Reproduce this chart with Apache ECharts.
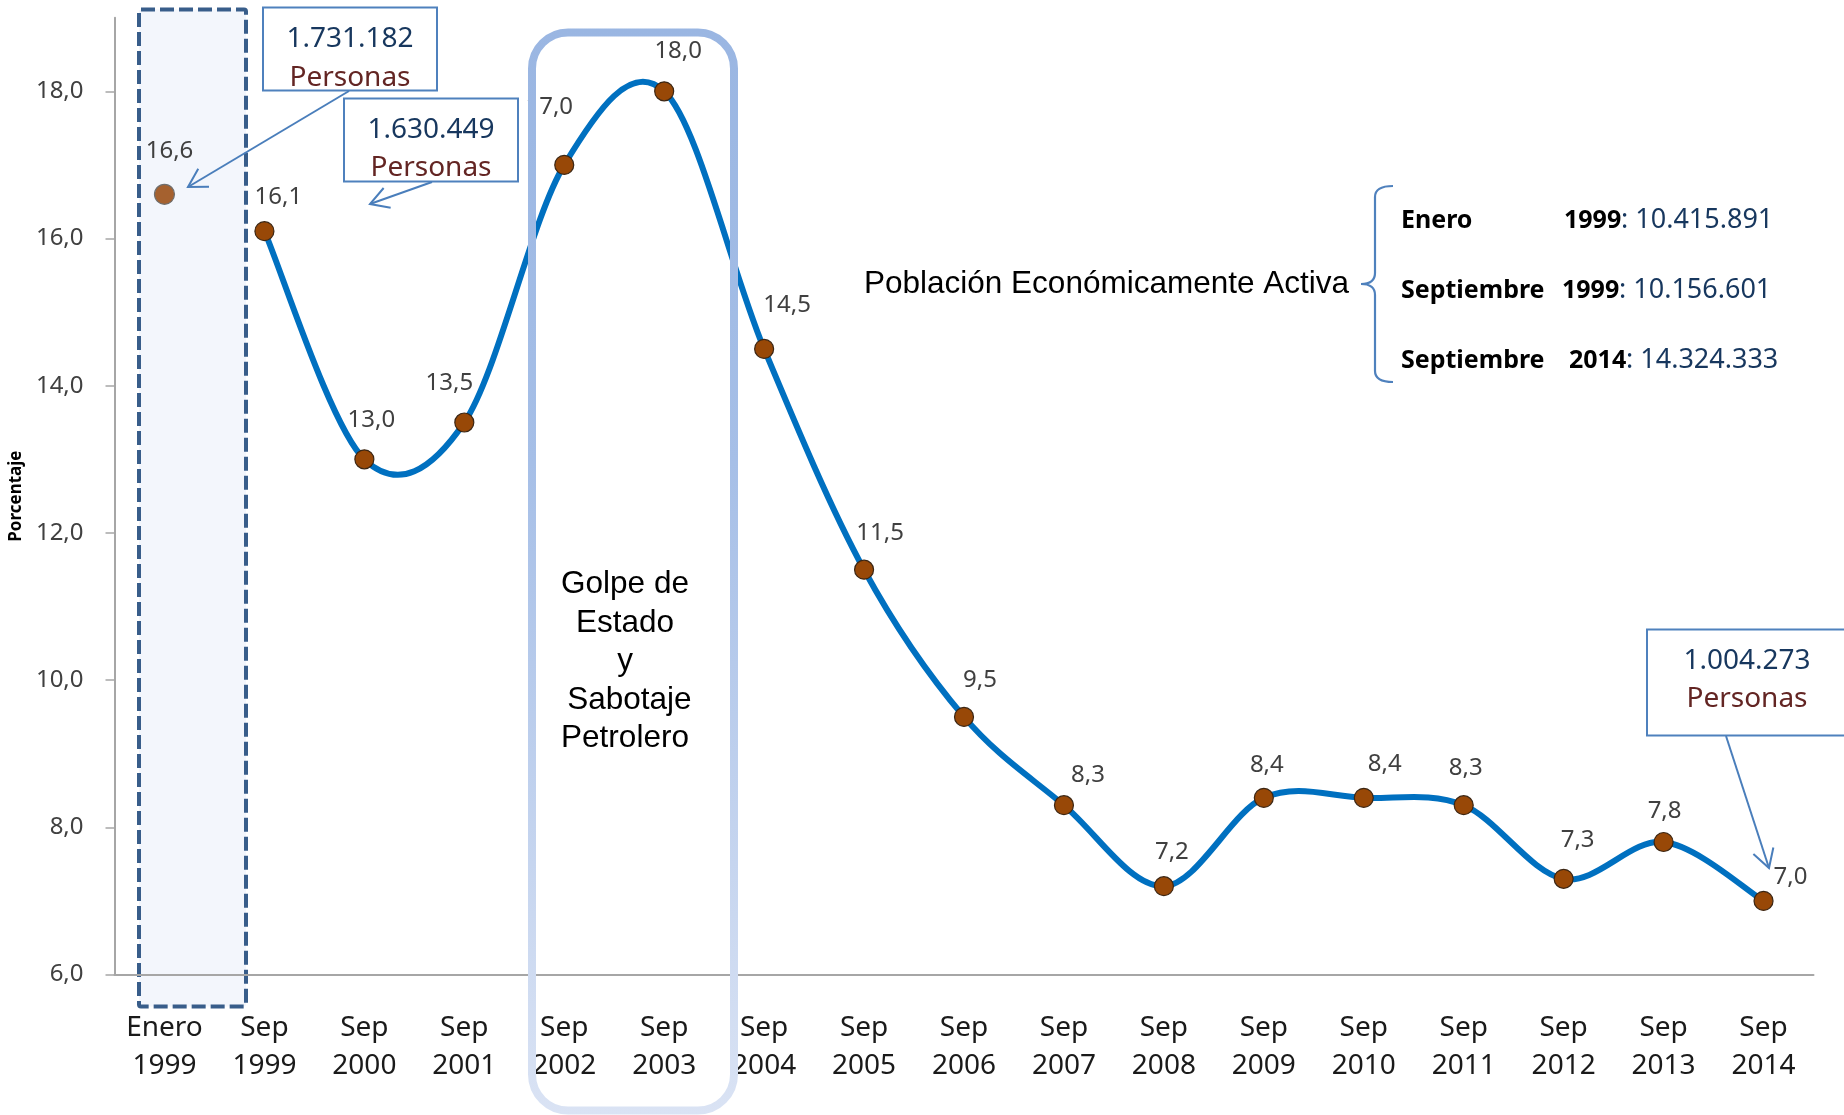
<!DOCTYPE html>
<html>
<head>
<meta charset="utf-8">
<script src="https://cdn.jsdelivr.net/npm/echarts@6/dist/echarts.min.js"></script>
<style>
html,body{margin:0;padding:0;background:#ffffff;}
#chart{width:1844px;height:1115px;}
</style>
</head>
<body>
<div id="chart"></div>
<script>
// ---- data ----
const categories = ['Enero\n1999','Sep\n1999','Sep\n2000','Sep\n2001','Sep\n2002','Sep\n2003','Sep\n2004','Sep\n2005','Sep\n2006','Sep\n2007','Sep\n2008','Sep\n2009','Sep\n2010','Sep\n2011','Sep\n2012','Sep\n2013','Sep\n2014'];
const desempleo = [16.6, 16.1, 13.0, 13.5, 17.0, 18.0, 14.5, 11.5, 9.5, 8.3, 7.2, 8.4, 8.4, 8.3, 7.3, 7.8, 7.0];
const yTicks = [6, 8, 10, 12, 14, 16, 18];
const personasBox = ['1.731.182', '1.630.449', '1.004.273'];
const peaRows = [
  ['Enero', '1999', '10.415.891'],
  ['Septiembre', '1999', '10.156.601'],
  ['Septiembre', '2014', '14.324.333']
];
// label offsets (style, relative to each point)
const labelOffsets = [[5,-43],[14,-34],[7,-39],[-15,-39],[-15,-58],[14,-40],[23,-44],[16,-37],[16,-37],[24,-30],[8,-34],[3,-33],[21,-34],[2,-37],[14,-39],[1,-31],[27,-24]];

const fmt = v => v.toFixed(1).replace('.', ',');
const F = '"Noto Sans", "Open Sans", sans-serif';
const ARIAL = '"Liberation Sans", Arial, sans-serif';

const lineData = desempleo.map((v, i) => i === 0 ? '-' : {value: v, label: {offset: labelOffsets[i]}});
const eneroData = desempleo.map((v, i) => i === 0 ? {value: v, label: {offset: labelOffsets[i]}} : '-');

function arrow(x1, y1, x2, y2) {
  const a = Math.atan2(y2 - y1, x2 - x1), L = 21, h = Math.PI / 6;
  const st = {stroke: '#4A7EBB', lineWidth: 2, fill: null};
  return [
    {type: 'line', z: 20, shape: {x1, y1, x2, y2}, style: st},
    {type: 'polyline', z: 20, shape: {points: [
      [x2 - L * Math.cos(a - h), y2 - L * Math.sin(a - h)], [x2, y2],
      [x2 - L * Math.cos(a + h), y2 - L * Math.sin(a + h)]]}, style: st}
  ];
}
function box(x, y, w, h, num, cy1, cy2, cx) {
  return [
    {type: 'rect', z: 15, shape: {x, y, width: w, height: h}, style: {fill: '#ffffff', stroke: '#4F81BD', lineWidth: 2}},
    {type: 'text', z: 16, style: {text: num, x: cx, y: cy1, textAlign: 'center', textVerticalAlign: 'middle', font: '28px ' + F, fill: '#17375E'}},
    {type: 'text', z: 16, style: {text: 'Personas', x: cx, y: cy2, textAlign: 'center', textVerticalAlign: 'middle', font: '28px ' + F, fill: '#632523'}}
  ];
}

const graphics = [];
// dashed highlight for Enero 1999
graphics.push({type: 'rect', z: -1, shape: {x: 139, y: 9.5, width: 107, height: 997, r: 2},
  style: {fill: '#F3F6FC', stroke: '#385D8A', lineWidth: 4, lineDash: [14, 5]}});
// Golpe de Estado box
graphics.push({type: 'rect', z: 10, shape: {x: 532, y: 32.5, width: 202, height: 1078, r: 36},
  style: {fill: null, lineWidth: 8, stroke: new echarts.graphic.LinearGradient(0, 0, 0, 1, [
    {offset: 0, color: '#9AB6E2'}, {offset: 0.4, color: '#A6BFE7'}, {offset: 1, color: '#DAE3F4'}])}});
graphics.push({type: 'text', z: 11, style: {text: 'Golpe de\nEstado\ny\n Sabotaje\nPetrolero', x: 625, y: 565,
  textAlign: 'center', textVerticalAlign: 'top', font: '31.5px ' + ARIAL, lineHeight: 38.6, fill: '#000000'}});
// PEA
graphics.push({type: 'text', z: 11, style: {text: 'Población Económicamente Activa', x: 864, y: 284,
  textAlign: 'left', textVerticalAlign: 'middle', font: '31.5px ' + ARIAL, fill: '#000000'}});
// brace
const bst = {fill: null, stroke: '#4F81BD', lineWidth: 2.2};
graphics.push({type: 'bezierCurve', z: 11, shape: {x1: 1393, y1: 186, cpx1: 1375, cpy1: 186, x2: 1375, y2: 197}, style: bst});
graphics.push({type: 'line', z: 11, shape: {x1: 1375, y1: 197, x2: 1375, y2: 273}, style: bst});
graphics.push({type: 'bezierCurve', z: 11, shape: {x1: 1375, y1: 273, cpx1: 1375, cpy1: 284, x2: 1361, y2: 284}, style: bst});
graphics.push({type: 'bezierCurve', z: 11, shape: {x1: 1361, y1: 284, cpx1: 1375, cpy1: 284, x2: 1375, y2: 295}, style: bst});
graphics.push({type: 'line', z: 11, shape: {x1: 1375, y1: 295, x2: 1375, y2: 371}, style: bst});
graphics.push({type: 'bezierCurve', z: 11, shape: {x1: 1375, y1: 371, cpx1: 1375, cpy1: 382, x2: 1393, y2: 382}, style: bst});
const rowY = [220.5, 290.5, 360.5];
const yearX = [1564, 1562, 1569];
peaRows.forEach((r, i) => {
  graphics.push({type: 'text', z: 11, style: {text: r[0], x: 1401, y: rowY[i], textAlign: 'left', textVerticalAlign: 'middle',
    font: 'bold 25px ' + F, fill: '#000000'}});
  graphics.push({type: 'text', z: 11, style: {text: r[1], x: yearX[i], y: rowY[i], textAlign: 'left', textVerticalAlign: 'middle',
    font: 'bold 25px ' + F, fill: '#000000'}});
  graphics.push({type: 'text', z: 11, style: {text: ': ' + r[2], x: yearX[i] + 57, y: rowY[i], textAlign: 'left', textVerticalAlign: 'middle',
    font: '27px ' + F, fill: '#17375E'}});
});
// boxes + arrows
graphics.push(...box(263, 7.5, 174, 83, personasBox[0], 39, 78, 350));
graphics.push(...arrow(349, 91, 188, 187));
graphics.push(...box(344, 98.5, 174, 83, personasBox[1], 130, 168, 431));
graphics.push(...arrow(432, 182, 370, 204));
graphics.push(...box(1647, 629.5, 230, 106, personasBox[2], 661.5, 699.5, 1747));
graphics.push(...arrow(1726, 736, 1769, 868));

// smooth curve (Catmull-Rom style, like the spreadsheet smoothing), through the axis scales
function renderCurve(params, api) {
  if (params.dataIndex !== 1) return null;
  const pts = [];
  for (let i = 1; i < desempleo.length; i++) pts.push(api.coord([i, desempleo[i]]));
  let d = 'M' + pts[0][0] + ',' + pts[0][1];
  for (let i = 0; i < pts.length - 1; i++) {
    const p0 = pts[Math.max(i - 1, 0)], p1 = pts[i], p2 = pts[i + 1], p3 = pts[Math.min(i + 2, pts.length - 1)];
    const c1 = [p1[0] + (p2[0] - p0[0]) / 6, p1[1] + (p2[1] - p0[1]) / 6];
    const c2 = [p2[0] - (p3[0] - p1[0]) / 6, p2[1] - (p3[1] - p1[1]) / 6];
    d += ' C' + c1[0] + ',' + c1[1] + ' ' + c2[0] + ',' + c2[1] + ' ' + p2[0] + ',' + p2[1];
  }
  return {type: 'path', shape: {pathData: d}, style: {fill: null, stroke: '#0070C0', lineWidth: 6, lineJoin: 'round', lineCap: 'round'}};
}

const option = {
  animation: false,
  backgroundColor: '#ffffff',
  grid: {left: 114, right: 30.5, top: 17.7, bottom: 140.5, containLabel: false},
  xAxis: {
    type: 'category', data: categories, boundaryGap: true,
    axisLine: {lineStyle: {color: '#A6A6A6', width: 2}},
    axisTick: {length: 10, lineStyle: {color: '#A6A6A6', width: 1.5}},
    axisLabel: {fontFamily: F, fontSize: 28, lineHeight: 38, color: '#1a1a1a', margin: 35, interval: 0},
    splitLine: {show: false}
  },
  yAxis: {
    type: 'value', min: 6, max: 19, interval: 2,
    name: 'Porcentaje', nameLocation: 'middle', nameGap: 86,
    nameTextStyle: {fontFamily: F, fontSize: 17, fontWeight: 'bold', color: '#000000'},
    axisLine: {show: true, lineStyle: {color: '#A6A6A6', width: 2}},
    axisTick: {show: true, length: 9, customValues: yTicks, lineStyle: {color: '#A6A6A6', width: 1.5}},
    axisLabel: {customValues: yTicks, fontFamily: F, fontSize: 24, color: '#404040', margin: 31, formatter: v => fmt(v)},
    splitLine: {show: false}
  },
  graphic: {elements: graphics},
  series: [
    {
      type: 'custom', data: desempleo.map((v, i) => [i, v]), encode: {x: 0, y: 1},
      renderItem: renderCurve, z: 2, silent: true
    },
    {
      type: 'scatter', data: lineData,
      symbol: 'circle', symbolSize: 19,
      itemStyle: {color: '#984807', borderColor: '#3B2614', borderWidth: 1.2, opacity: 1},
      label: {show: true, position: 'inside', fontFamily: F, fontSize: 24, color: '#404040', formatter: p => fmt(p.value)},
      z: 3
    },
    {
      type: 'scatter', data: eneroData, symbol: 'circle', symbolSize: 20,
      itemStyle: {color: '#A5612F', borderColor: '#6F6F6F', borderWidth: 1.2, opacity: 1},
      label: {show: true, position: 'inside', fontFamily: F, fontSize: 24, color: '#404040', formatter: p => fmt(p.value)},
      z: 3
    }
  ]
};
const chart = echarts.init(document.getElementById('chart'), null, {renderer: 'canvas'});
chart.setOption(option);
</script>
</body>
</html>
